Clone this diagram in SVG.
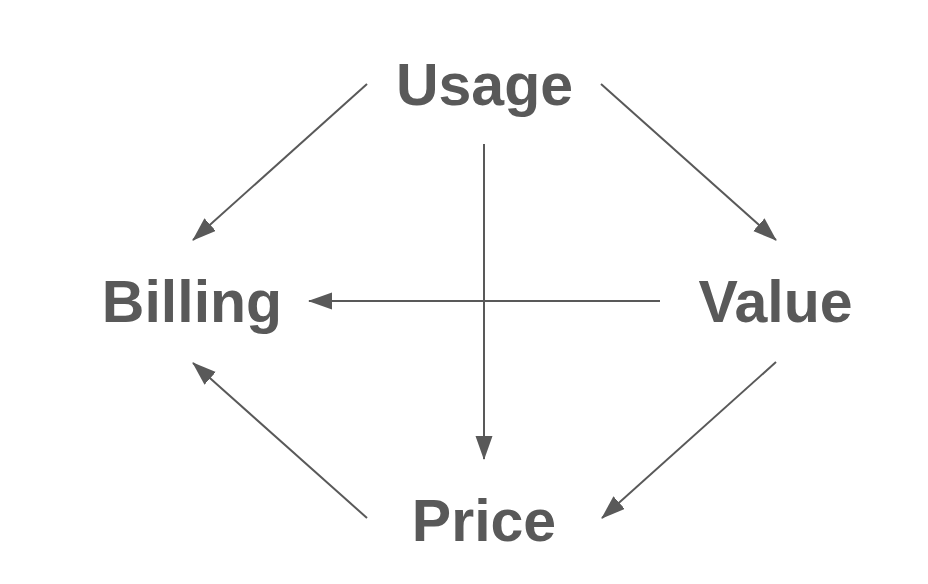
<svg xmlns="http://www.w3.org/2000/svg" width="928" height="584" viewBox="0 0 928 584">
<style>
.lbl{font-family:"Liberation Sans",Arial,sans-serif;font-weight:bold;font-size:59px;fill:#595959;text-anchor:middle}
.edge{stroke:#595959;stroke-width:2;fill:none;marker-end:url(#ah)}
</style>
<defs>
<marker id="ah" markerUnits="userSpaceOnUse" markerWidth="24" markerHeight="18" refX="23" refY="8.5" orient="auto">
<path d="M0,0 L24,8.5 L0,17 z" fill="#595959"/>
</marker>
</defs>
<rect width="928" height="584" fill="#ffffff"/>
<g id="connectors">
<line class="edge" x1="367" y1="84" x2="193" y2="240"/>
<line class="edge" x1="601" y1="84" x2="776" y2="240"/>
<line class="edge" x1="484" y1="144" x2="484" y2="459"/>
<line class="edge" x1="660" y1="301" x2="309" y2="301"/>
<line class="edge" x1="776" y1="362" x2="602" y2="518"/>
<line class="edge" x1="367" y1="518" x2="193" y2="363"/>
</g>
<g id="usage"><text class="lbl" x="484.5" y="105">Usage</text></g>
<g id="billing"><text class="lbl" x="192" y="322">Billing</text></g>
<g id="value"><text class="lbl" x="775.5" y="322">Value</text></g>
<g id="price"><text class="lbl" x="484" y="541">Price</text></g>
</svg>
